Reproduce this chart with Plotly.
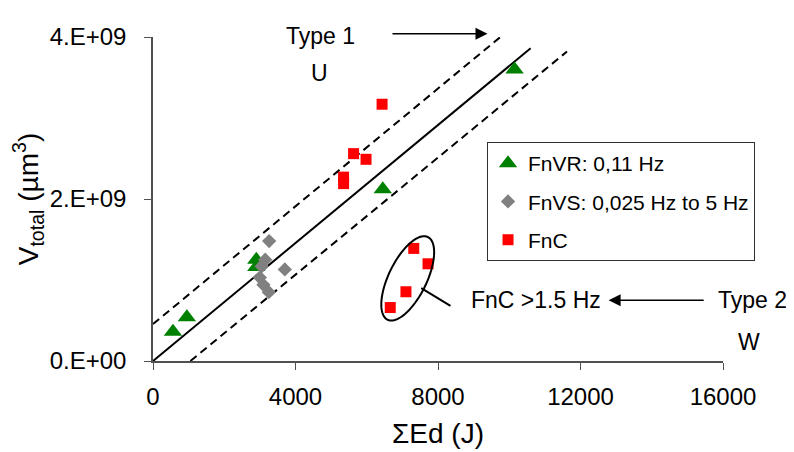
import numpy as np
import plotly.graph_objects as go

# FnVR: 0,11 Hz (green triangles)
fnvr_ed = [560, 950, 2900, 2900, 6450, 10150]
fnvr_v = [3.6e8, 5.4e8, 1.25e9, 1.16e9, 2.12e9, 3.6e9]

# FnVS: 0,025 Hz to 5 Hz (grey diamonds)
fnvs_ed = [3260, 3150, 3050, 3700, 3000, 3100, 3250]
fnvs_v = [1.48e9, 1.25e9, 1.17e9, 1.13e9, 1.03e9, 9.4e8, 8.5e8]

# FnC (red squares)
fnc_ed = [6430, 5630, 5980, 5350, 5350, 7320, 7720, 7100, 6660]
fnc_v = [3.17e9, 2.56e9, 2.49e9, 2.27e9, 2.19e9, 1.39e9, 1.2e9, 8.55e8, 6.6e8]

# fitted line and the two band limits
fit_ed = [0, 10600]
fit_v = [0, 3.86e9]
upper_ed = [0, 10300]
upper_v = [4.56e8, 4.2e9]
lower_ed = [1050, 11620]
lower_v = [0, 3.82e9]

xticks = [0, 4000, 8000, 12000, 16000]
yticks = [0, 2e9, 4e9]
yticktext = ["0.E+00", "2.E+09", "4.E+09"]

FONT = "Liberation Sans, Arial, sans-serif"
XMAX, YMAX = 16000, 4e9

# plot area size in px, used for the ellipse and arrows only
W, H = 570, 324
sx = XMAX / W
sy = YMAX / H

fig = go.Figure()

fig.add_trace(go.Scatter(x=fit_ed, y=fit_v, mode="lines",
                         line=dict(color="black", width=2), showlegend=False))
for xs, ys in [(upper_ed, upper_v), (lower_ed, lower_v)]:
    fig.add_trace(go.Scatter(x=xs, y=ys, mode="lines",
                             line=dict(color="black", width=2, dash="8px,5px"),
                             showlegend=False))

fig.add_trace(go.Scatter(x=fnvr_ed, y=fnvr_v, mode="markers", name="FnVR: 0,11 Hz",
                         legendgroup="a",
                         marker=dict(symbol="triangle-up", size=16, color="#008000")))
fig.add_trace(go.Scatter(x=fnvs_ed, y=fnvs_v, mode="markers", name="FnVS: 0,025 Hz to 5 Hz",
                         legendgroup="b",
                         marker=dict(symbol="diamond", size=11, color="#808080")))
fig.add_trace(go.Scatter(x=fnc_ed, y=fnc_v, mode="markers", name="FnC",
                         legendgroup="c",
                         marker=dict(symbol="square", size=11, color="#ff0000")))

# ellipse around the high-frequency FnC points
cx, cy = 7150, 1.02e9
a, b, th = 46, 19, np.radians(64)
t = np.linspace(0, 2 * np.pi, 80)
ex = cx + (a * np.cos(t) * np.cos(th) - b * np.sin(t) * np.sin(th)) * sx
ey = cy + (a * np.cos(t) * np.sin(th) + b * np.sin(t) * np.cos(th)) * sy
path = "M " + " L ".join(f"{x},{y}" for x, y in zip(ex, ey)) + " Z"
fig.add_shape(type="path", path=path, xref="x", yref="y",
              line=dict(color="black", width=2))
fig.add_shape(type="line", x0=7530, y0=9.0e8, x1=8350, y1=6.8e8,
              xref="x", yref="y", line=dict(color="black", width=2))

# annotations in paper coords so they can sit outside the axis range
def px(v):
    return v / XMAX

def py(v):
    return v / YMAX

txt = dict(font=dict(family=FONT, size=23, color="black"), showarrow=False,
           xref="paper", yref="paper", xanchor="center", yanchor="middle")
fig.add_annotation(x=px(4700), y=py(4.01e9), text="Type 1", **txt)
fig.add_annotation(x=px(4680), y=py(3.56e9), text="U", **txt)
fig.add_annotation(x=px(16820), y=py(7.5e8), text="Type 2", **txt)
fig.add_annotation(x=px(16720), y=py(2.4e8), text="W", **txt)
txt["xanchor"] = "left"
fig.add_annotation(x=px(8880), y=py(7.5e8), text="FnC >1.5 Hz", **txt)

arr = dict(text="", showarrow=True, arrowhead=2, arrowsize=1.6, arrowwidth=1.5,
           arrowcolor="black", xref="paper", yref="paper",
           axref="pixel", ayref="pixel")
fig.add_annotation(x=px(9390), y=py(4.04e9), ax=-(9390 - 6680) / sx, ay=0, **arr)
fig.add_annotation(x=px(12790), y=py(7.5e8), ax=(15500 - 12790) / sx, ay=0, **arr)

# the page body has an 8px margin, so the margins are shifted by it
fig.update_layout(
    width=794, height=452,
    margin=dict(l=145, r=79, t=29, b=99),
    paper_bgcolor="white", plot_bgcolor="white",
    font=dict(family=FONT, size=23, color="black"),
    showlegend=True,
    legend=dict(x=0.586, y=0.676, xanchor="left", yanchor="top",
                bgcolor="white", bordercolor="#303030", borderwidth=1,
                font=dict(size=21), tracegroupgap=8, itemwidth=30),
)
fig.update_xaxes(range=[0, XMAX], tickvals=xticks, tickformat="d",
                 showgrid=False, zeroline=False, showline=True, automargin=False,
                 linecolor="#505050", linewidth=1.5, ticks="outside",
                 ticklen=7, tickcolor="#505050", tickfont=dict(size=24),
                 ticklabelstandoff=6,
                 title=dict(text="ΣEd (J)", standoff=15))
fig.update_yaxes(range=[0, YMAX], tickvals=yticks, ticktext=yticktext,
                 showgrid=False, zeroline=False, showline=True, automargin=False,
                 linecolor="#505050", linewidth=1.5, ticks="outside",
                 ticklen=7, tickcolor="#505050", tickfont=dict(size=24),
                 ticklabelstandoff=13,
                 title=dict(text="V<sub>total</sub> (µm<sup>3</sup>)", standoff=16))

fig.write_html("out.html")
